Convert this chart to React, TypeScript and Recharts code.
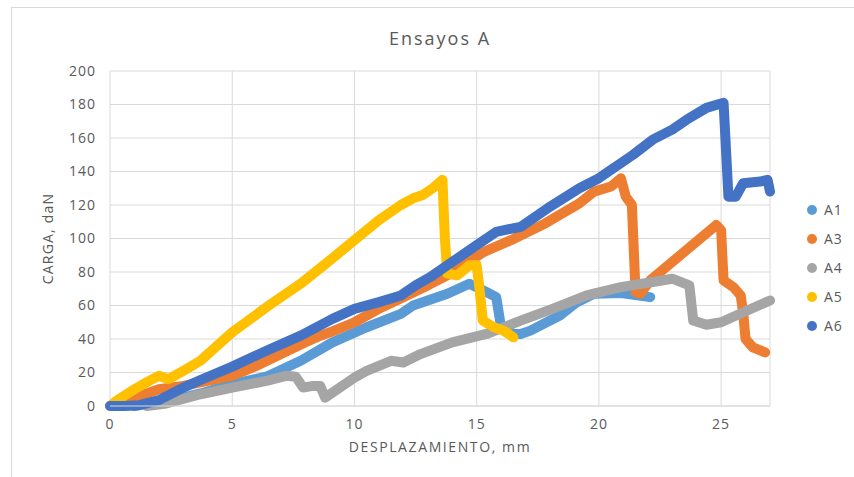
import { LineChart, Line, XAxis, YAxis, CartesianGrid, Legend } from 'recharts';

// load vs displacement
const xTicks = [0, 5, 10, 15, 20, 25];
const yTicks = [0, 20, 40, 60, 80, 100, 120, 140, 160, 180, 200];

const a1Points: [number, number][] = [
  [1, 0], [2, 3], [3, 5], [3.7, 7.5], [5, 13], [6.4, 17.5], [7.8, 27], [9.1, 38],
  [10.5, 47], [11.9, 55], [12.4, 60], [13.8, 67], [14.7, 73], [15.4, 68], [15.8, 65],
  [16, 47], [16.5, 43], [16.8, 43], [17.2, 45], [18.4, 54], [19.1, 62], [19.8, 67],
  [20.9, 67.5], [22.1, 65],
];

const a3Points: [number, number][] = [
  [0.3, 0], [1, 5], [2, 10], [3, 12], [4, 15], [5, 18], [6, 24], [7, 31], [8, 38],
  [8.6, 42], [9, 44], [10, 50], [11, 58], [12, 65], [13, 72], [13.8, 78], [15.3, 92],
  [16.4, 99], [17.8, 109], [19.2, 121], [19.8, 128], [20.5, 131], [20.9, 136],
  [21.1, 125], [21.35, 120], [21.5, 68], [21.7, 67], [22.1, 75], [24.8, 108],
  [25, 105], [25.1, 75], [25.5, 71], [25.8, 66], [25.9, 56], [26, 40], [26.3, 35],
  [26.8, 32],
];

const a4Points: [number, number][] = [
  [1.5, 0], [2.3, 1.5], [3.7, 7], [5, 11], [6.4, 15], [7.2, 18], [7.6, 17.5],
  [7.9, 11], [8.3, 12], [8.6, 12], [8.8, 5], [9.4, 11], [10, 17], [10.5, 21],
  [11.5, 27], [12, 26], [12.7, 31], [14, 38], [15.4, 43], [16.8, 51], [18.1, 58],
  [19.5, 66], [20.9, 71], [22.2, 74], [23, 76], [23.7, 72], [23.86, 51], [24.4, 48.5],
  [25, 50], [26.3, 58.5], [27, 63],
];

const a5Points: [number, number][] = [
  [0, 0], [0.3, 3.5], [1, 10], [1.6, 15], [2, 18], [2.4, 16], [3, 21], [3.7, 27],
  [5, 44], [6.4, 59], [7.8, 73], [9, 87], [10, 99], [11, 111], [11.9, 120],
  [12.4, 124], [12.8, 126], [13.2, 130], [13.6, 135], [13.7, 100], [13.8, 79],
  [14.2, 78], [14.7, 84], [15, 84], [15.1, 72], [15.25, 51], [15.7, 47], [16.1, 45],
  [16.5, 41],
];

const a6Points: [number, number][] = [
  [0, 0], [0.6, 0], [1.2, 0.5], [2, 3.5], [3, 11], [3.7, 15.5], [5, 23.5], [6.4, 33],
  [7.8, 42], [9.1, 52], [10, 58], [11, 62], [11.9, 66], [12.5, 72], [13.1, 77],
  [14, 86], [15, 96], [15.8, 104], [16.8, 107], [17.9, 118], [19.2, 130], [20, 136],
  [21.4, 150], [22.2, 159], [23, 165], [23.6, 171], [24.4, 178], [25.1, 181],
  [25.3, 125], [25.6, 125], [25.9, 133], [26.6, 134], [26.9, 135], [27, 128],
];

const seriesNames = ['A1', 'A3', 'A4', 'A5', 'A6'];
const seriesColors = ['#5B9BD5', '#ED7D31', '#A5A5A5', '#FFC000', '#4472C4'];
const seriesPoints = [a1Points, a3Points, a4Points, a5Points, a6Points];

const toRows = (pts: [number, number][]) => pts.map(([x, y]) => ({ x, y }));

const textColor = '#595959';
const font = '"Open Sans", sans-serif';

const renderLegend = () => (
  <ul style={{ listStyle: 'none', margin: 0, padding: 0, fontFamily: font }}>
    {seriesNames.map((name, i) => (
      <li key={name} style={{ height: 29, display: 'flex', alignItems: 'center', color: textColor, fontSize: 14, letterSpacing: 1 }}>
        <span style={{ width: 10, height: 10, borderRadius: '50%', background: seriesColors[i], marginRight: 7, display: 'inline-block' }} />
        <span>{name}</span>
      </li>
    ))}
  </ul>
);

export default function App() {
  return (
    <div style={{ position: 'absolute', left: 0, top: 0, width: 854, height: 477, overflow: 'hidden', background: '#fff' }}>
      <div style={{ position: 'absolute', left: 11, top: 7, width: 900, height: 500, border: '1px solid #d9d9d9' }} />
      <div style={{ position: 'absolute', left: 0, width: 880, top: 26, textAlign: 'center', fontFamily: font, fontSize: 18, color: textColor, letterSpacing: 2 }}>
        Ensayos A
      </div>
      <LineChart
        width={854}
        height={477}
        margin={{ top: 71, right: 84, bottom: 41, left: 30 }}
        style={{ position: 'absolute', left: 0, top: 0 }}
      >
        <CartesianGrid stroke="#d9d9d9" />
        <XAxis
          type="number"
          dataKey="x"
          domain={[0, 27]}
          ticks={xTicks}
          tickLine={false}
          tickSize={0}
          tickMargin={13}
          height={30}
          stroke="#d9d9d9"
          tick={{ fill: textColor, fontSize: 14, fontFamily: font, letterSpacing: 1 }}
          label={{ value: 'DESPLAZAMIENTO, mm', position: 'bottom', offset: 6, fill: textColor, fontSize: 14, fontFamily: font, style: { letterSpacing: 1.6 } }}
        />
        <YAxis
          type="number"
          domain={[0, 200]}
          ticks={yTicks}
          axisLine={false}
          tickLine={false}
          tickSize={0}
          tickMargin={14}
          width={80}
          tick={{ fill: textColor, fontSize: 14, fontFamily: font, letterSpacing: 1 }}
          label={{ value: 'CARGA, daN', angle: -90, position: 'insideLeft', offset: 18, fill: textColor, fontSize: 14, fontFamily: font, style: { textAnchor: 'middle', letterSpacing: 1.2 } }}
        />
        <Legend
          layout="vertical"
          align="center"
          verticalAlign="middle"
          content={renderLegend}
          wrapperStyle={{ left: 807, top: 195, width: 50 }}
        />
        {seriesNames.map((name, i) => (
          <Line
            key={name}
            name={name}
            data={toRows(seriesPoints[i])}
            dataKey="y"
            type="linear"
            stroke={seriesColors[i]}
            strokeWidth={10}
            strokeLinecap="round"
            strokeLinejoin="round"
            dot={false}
            activeDot={false}
            isAnimationActive={false}
          />
        ))}
      </LineChart>
    </div>
  );
}
